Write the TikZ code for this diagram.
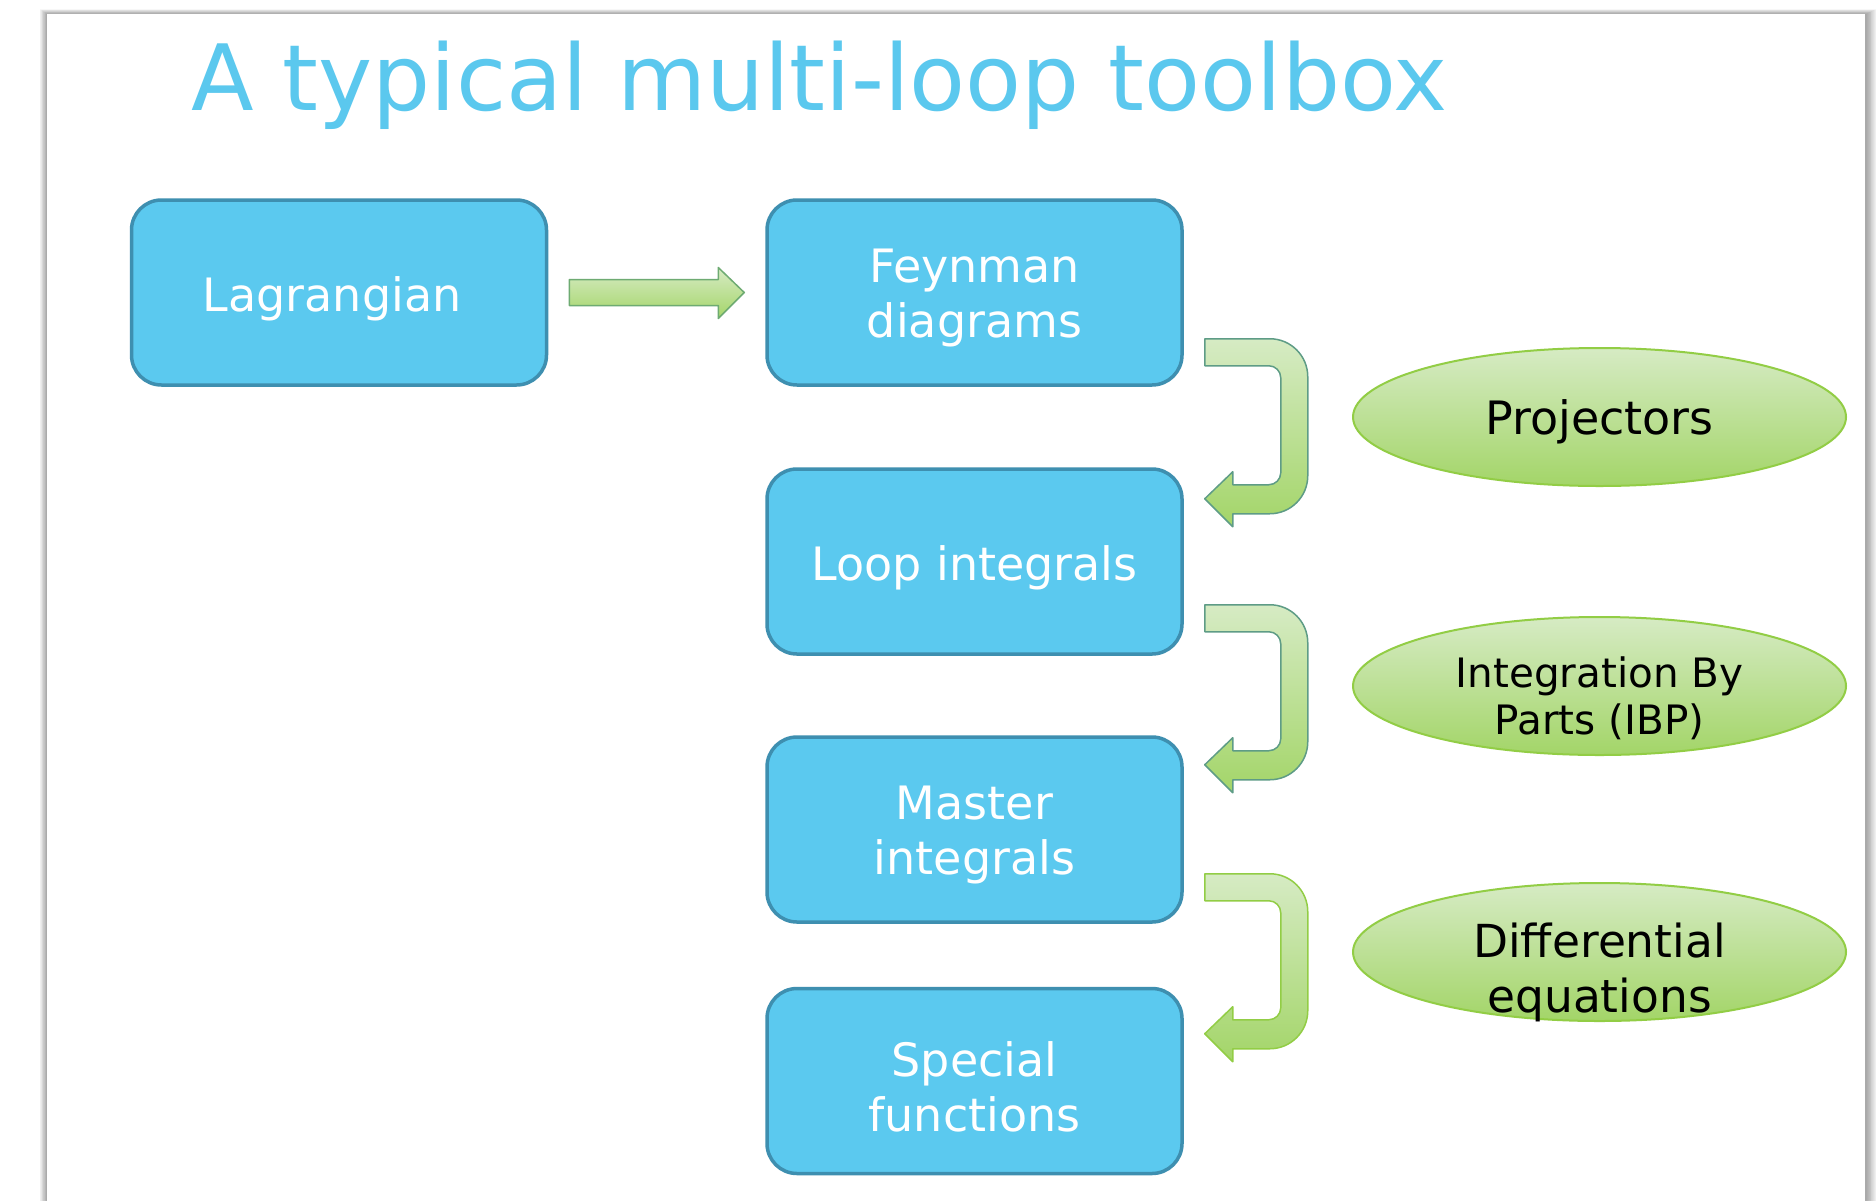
\documentclass[tikz,border=0pt]{standalone}
\usepackage{fontspec}
\setmainfont{DejaVu Sans}
\usetikzlibrary{shapes.geometric,calc}
\definecolor{boxfill}{HTML}{5BC9EF}
\definecolor{boxline}{HTML}{3E8FB0}
\definecolor{titleblue}{HTML}{5BC8EE}
\definecolor{greentop}{HTML}{D6EBC4}
\definecolor{greenbot}{HTML}{A3D568}
\definecolor{greenline}{HTML}{92CD45}
\definecolor{tealline}{HTML}{5E9C86}

\tikzset{
  stepbox/.style={draw=boxline, line width=3.5pt, fill=boxfill, rounded corners=30pt,
    minimum width=415pt, minimum height=185pt, inner sep=0pt},
  steptext/.style={align=center, inner sep=0pt, text=white,
    font=\fontsize{46}{55}\selectfont},
  toolellipse/.style={ellipse, draw=greenline, line width=2pt,
    top color=greentop, bottom color=greenbot,
    minimum width=493pt, minimum height=138pt, inner sep=0pt},
  tooltext/.style={align=center, inner sep=0pt, text=black},
  greenfill/.style={top color=greentop, bottom color=greenbot},
  % bent block arrow, origin at the top-left corner of its upper shaft
  bentarrow/.pic={
    \path[pic actions, greenfill, line join=round]
      (0,0) -- (65,0) arc[start angle=-90, end angle=0, radius=38]
      -- (103,137) arc[start angle=0, end angle=90, radius=38]
      -- (28,175) -- (28,188) -- (0,160) -- (28,133) -- (28,146)
      -- (64,146) arc[start angle=90, end angle=0, radius=12]
      -- (76,39) arc[start angle=0, end angle=-90, radius=12]
      -- (0,27) -- cycle;
  },
  % straight block arrow, origin at the middle of its tail
  straightarrow/.pic={
    \path[pic actions, greenfill, line join=round]
      (0,-13) -- (149,-13) -- (149,-25) -- (175,0) -- (149,26)
      -- (149,13) -- (0,13) -- cycle;
  },
}

\begin{document}
\begin{tikzpicture}[x=1pt, y=-1pt]
\useasboundingbox (0,0) rectangle (1876,1200);
\fill[white] (0,0) rectangle (1876,1200);

% slide sheet with a soft shadow
\foreach \i in {12,11,...,1} {
  \fill[black, opacity=0.03] (47-0.6*\i,14-0.4*\i) rectangle (1866+0.9*\i,1230);
}
\fill[white] (47,14) rectangle (1865,1230);

% title
\node[anchor=base west, inner sep=0pt, text=titleblue,
  font=\fontsize{91.5}{110}\selectfont] (title) at (191,110) {A typical multi-loop toolbox};

% main chain
\node[stepbox] (lag)  at (339,292.5)   {};
\node[stepbox] (feyn) at (974.5,292.5) {};
\node[stepbox] (loop) at (974.5,561.5) {};
\node[stepbox] (mast) at (974.5,829.5) {};
\node[stepbox] (spec) at (974.5,1081)  {};
\node[steptext] (lagtext)  at ($(lag)+(-7,6)$)  {Lagrangian};
\node[steptext] (feyntext) at ($(feyn)+(0,6)$) {Feynman\\diagrams};
\node[steptext] (looptext) at ($(loop)+(0,6)$) {Loop integrals};
\node[steptext] (masttext) at ($(mast)+(0,6)$) {Master\\integrals};
\node[steptext] (spectext) at ($(spec)+(0,6)$) {Special\\functions};

% tools
\node[toolellipse] (proj) at (1599.5,417) {};
\node[toolellipse] (ibp)  at (1599.5,686) {};
\node[toolellipse] (deq)  at (1599.5,952) {};
\node[tooltext, font=\fontsize{46}{55}\selectfont] (projtext) at ($(proj)+(0,5)$) {Projectors};
\node[tooltext, font=\fontsize{40.5}{47}\selectfont] (ibptext) at ($(ibp)+(0,12)$) {Integration By\\Parts (IBP)};
\node[tooltext, font=\fontsize{45.5}{55}\selectfont] (deqtext) at ($(deq)+(0,20)$) {Differential\\equations};

% block arrows between the steps
\pic[draw=tealline!70!greenline, line width=1.5pt] at ($(lag.east)+(21,0)$) {straightarrow};
\pic[draw=tealline, line width=1.5pt] at ($(feyn.south east)+(21,-48)$) {bentarrow};
\pic[draw=tealline, line width=1.5pt] at ($(loop.south east)+(21,-51)$) {bentarrow};
\pic[draw=greenline, line width=1.5pt] at ($(mast.south east)+(21,-50)$) {bentarrow};
\end{tikzpicture}
\end{document}
